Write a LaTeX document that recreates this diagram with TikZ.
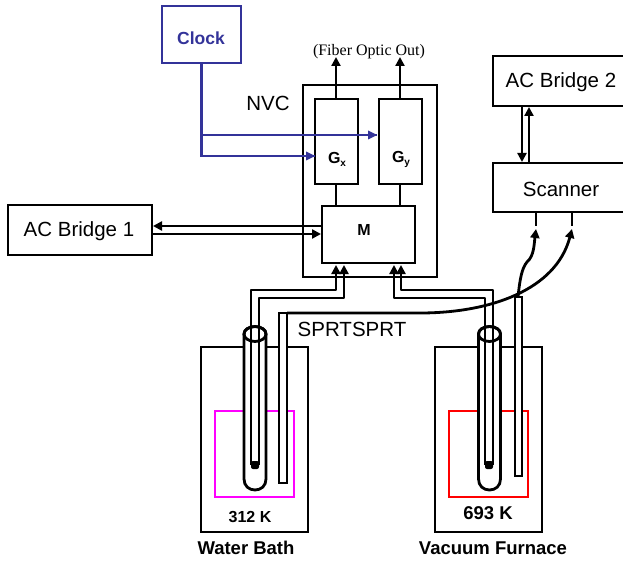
\documentclass[tikz,border=0pt]{standalone}
\usepackage{fontspec}
\setmainfont{Liberation Sans}
\newfontfamily\timesf{Liberation Serif}
\usetikzlibrary{arrows.meta,shapes.geometric}
\definecolor{clockblue}{RGB}{51,51,153}
\definecolor{pinkm}{RGB}{255,0,255}
\definecolor{redm}{RGB}{255,0,0}
\tikzset{
  ln/.style={line width=2.8pt,black,line join=miter},
  wire/.style={line width=2.8pt,black,line join=round},
  tip/.style={-{Triangle[length=9pt,width=9pt]}},
  bluel/.style={line width=2.8pt,clockblue,line join=miter},
  box/.style={draw=black,line width=2.8pt,inner sep=0pt,outer sep=0pt,rectangle},
  txt/.style={inner sep=0pt,outer sep=0pt,text=black},
  lab/.style={txt,font=\fontsize{20.5}{24}\selectfont},
  bold/.style={txt,font=\fontsize{18.5}{22}\selectfont\bfseries},
  gl/.style={txt,font=\fontsize{16}{19}\selectfont\bfseries},
  tube/.style={draw=black,line width=2.8pt,ellipse,inner sep=0pt,outer sep=0pt,minimum width=22pt,minimum height=15pt},
  dotn/.style={rectangle,rounded corners=2pt,fill=black,inner sep=0pt,outer sep=0pt,minimum size=8pt},
}
\begin{document}
\begin{tikzpicture}[x=1pt,y=-1pt]
\useasboundingbox (0,0) rectangle (623,561);
\clip (0,0) rectangle (623,561);
% boxes
\node[box,draw=clockblue,minimum width=79pt,minimum height=57pt] (clock) at (201.5,34.5) {};
\node[txt,text=clockblue,font=\fontsize{17.5}{21}\selectfont\bfseries] (clocklab) at (201,38) {Clock};
\node[box,minimum width=134pt,minimum height=192pt] (nvc) at (370,181) {};
\node[lab] (nvclab) at (268,103) {NVC};
\node[box,minimum width=43pt,minimum height=85pt] (gx) at (336.5,141.5) {};
\node[box,minimum width=43pt,minimum height=85pt] (gy) at (400.5,141.5) {};
\node[gl] (gxl) at (337,159) {G\raisebox{-3pt}{\fontsize{10}{12}\selectfont x}};
\node[gl] (gyl) at (401,159) {G\raisebox{-3pt}{\fontsize{10}{12}\selectfont y}};
\node[box,minimum width=93pt,minimum height=57pt] (m) at (368.5,234.5) {};
\node[gl] (ml) at (364,230) {M};
\node[box,minimum width=144pt,minimum height=50pt] (ac1) at (80,230) {};
\node[lab] (ac1l) at (79,231) {AC Bridge 1};
\node[box,minimum width=147pt,minimum height=50pt] (ac2) at (566.5,81) {};
\node[lab] (ac2l) at (561,82) {AC Bridge 2};
\node[box,minimum width=147pt,minimum height=49pt] (scan) at (566.5,187.5) {};
\node[lab] (scanl) at (561,189) {Scanner};
\node[txt,font=\timesf\fontsize{16}{18}\selectfont] (fib) at (369,51.5) {(Fiber Optic Out)};
\node[lab] (sprt) at (352,329) {SPRTSPRT};
% vessels
\node[box,minimum width=107pt,minimum height=185pt] (wb) at (254.5,439.5) {};
\node[box,minimum width=107pt,minimum height=185pt] (vf) at (488.5,439.5) {};
\node[box,draw=pinkm,minimum width=79pt,minimum height=86pt] (mag) at (254.5,454) {};
\node[box,draw=redm,minimum width=79pt,minimum height=86pt] (redb) at (488.5,454) {};
\node[txt,font=\fontsize{16}{19}\selectfont\bfseries] (t312) at (250,517) {312 K};
\node[txt,font=\fontsize{18.5}{22}\selectfont\bfseries] (t693) at (488,513) {693 K};
\node[bold] (wbl) at (246,548) {Water Bath};
\node[bold] (vfl) at (493,548) {Vacuum Furnace};
% clock lines
\coordinate (cb1) at (201.5,135);
\coordinate (cb2) at (201.5,156);
\coordinate (gyin) at (377,135);
\coordinate (gxin) at (315,156);
\draw[bluel] (clock.south) -- (cb2) -- (gxin);
\draw[bluel] (cb1) -- (gyin);
\fill[clockblue] (gyin) -- ++(-9,-4.5) -- ++(0,9) -- cycle;
\fill[clockblue] (gxin) -- ++(-9,-4.5) -- ++(0,9) -- cycle;
% fiber out
\coordinate (o1) at (336,57);
\coordinate (o2) at (400,57);
\draw[ln,tip] (gx.north -| o1) -- (o1);
\draw[ln,tip] (gy.north -| o2) -- (o2);
\draw[ln] (gx.south -| o1) -- (m.north -| o1);
\draw[ln] (gy.south -| o2) -- (m.north -| o2);
% AC bridge 1 <-> M
\coordinate (a1u) at (153,226);
\coordinate (mu) at (322,226);
\coordinate (a1d) at (152,234);
\coordinate (md) at (321,234);
\draw[ln,tip] (mu) -- (a1u);
\draw[ln,tip] (a1d) -- (md);
% AC bridge 2 <-> scanner
\coordinate (s1) at (522,162);
\coordinate (b1) at (522,106);
\coordinate (s2) at (529,163);
\coordinate (b2) at (529,107);
\draw[ln,tip] (b1) -- (s1);
\draw[ln,tip] (s2) -- (b2);
% tubes
\node[tube] (t1) at (255,334) {};
\node[tube] (t2) at (489.5,334) {};
\draw[ln,fill=white] (t1.west) -- (244,479) .. controls (244,486) and (249,490) .. (255,490) .. controls (261,490) and (266,486) .. (266,479) -- (t1.east);
\draw[ln,fill=white] (t2.west) -- (478.5,479) .. controls (478.5,486) and (483.5,490) .. (489.5,490) .. controls (495.5,490) and (500.5,486) .. (500.5,479) -- (t2.east);
\node[tube] at (255,334) {};
\node[tube] at (489.5,334) {};
\node[dotn] (d1) at (255,465) {};
\node[dotn] (d2) at (489,465) {};
% wiring
\coordinate (mi1) at (336,265);
\coordinate (mi2) at (344,265);
\coordinate (mi3) at (394,265);
\coordinate (mi4) at (401,265);
\draw[wire,tip] (251,465) -- (251,290) -- (336,290) -- (mi1);
\draw[wire,tip] (259,465) -- (259,298) -- (344,298) -- (mi2);
\draw[wire,tip] (485,465) -- (485,298) -- (394,298) -- (mi3);
\draw[wire,tip] (493,465) -- (493,290) -- (401,290) -- (mi4);
% SPRT probes
\coordinate (p1a) at (279,313);
\coordinate (p1b) at (287,313);
\coordinate (p2a) at (515,297);
\coordinate (p2b) at (522,297);
\coordinate (p2t) at (518,297);
\draw[ln,fill=white] (p1a) -- (279,483) -- (287,483) -- (p1b) -- cycle;
\draw[ln,fill=white] (p2a) -- (515,476) -- (522,476) -- (p2b) -- cycle;
% leads to the scanner
\coordinate (sc1) at (536,229);
\coordinate (sc2) at (572,229);
\draw[ln] (scan.south -| sc1) -- (536,226);
\draw[ln] (scan.south -| sc2) -- (572,226);
\draw[wire,tip] (p2t) .. controls (520,278) and (522,268) .. (527,262) .. controls (534,256) and (534,245) .. (sc1);
\draw[wire,tip] (p1b) -- (420,313) .. controls (490,313) and (556,290) .. (sc2);
\end{tikzpicture}
\end{document}
